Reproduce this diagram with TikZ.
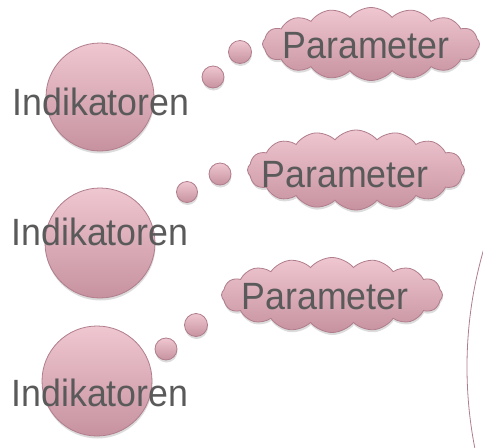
\documentclass[tikz,border=0pt]{standalone}
\usepackage{fontspec}
\setmainfont{Liberation Sans}[FakeStretch=0.94]
\usetikzlibrary{shapes.symbols,shadows}
\definecolor{pinktop}{HTML}{EFC7D1}
\definecolor{pinkbot}{HTML}{C792A0}
\definecolor{pinkline}{HTML}{B07D8C}
\definecolor{txtgray}{HTML}{5A5A5A}
\begin{document}
\begin{tikzpicture}[x=1pt,y=-1pt,
  shad/.style={drop shadow={opacity=0.28, shadow xshift=0.5pt, shadow yshift=-2.5pt}},
  ball/.style={circle, draw=pinkline, line width=0.8pt, top color=pinktop, bottom color=pinkbot, shad, inner sep=0pt},
  puff/.style={cloud, cloud puffs=16, cloud puff arc=100, aspect=2.9, draw=pinkline, line width=0.8pt, top color=pinktop, bottom color=pinkbot, shad, inner sep=0pt},
  lbl/.style={text=txtgray, font=\fontsize{38}{40}\selectfont, inner sep=0pt, anchor=center}]
\useasboundingbox (0,0) rectangle (483,448);
\node[circle, draw=pinkline, line width=0.8pt, minimum size=840pt, inner sep=0pt] (big) at (887,367) {};
% indicator circles
\node[ball, minimum size=108pt] (c1) at (100,97) {};
\node[ball, minimum size=110pt] (c2) at (100,243) {};
\node[ball, minimum size=110pt] (c3) at (97,381) {};
% thought bubbles
\node[ball, minimum size=22pt] (b11) at (213,77) {};
\node[ball, minimum size=23pt] (b12) at (240,52) {};
\node[ball, minimum size=21pt] (b21) at (187,192) {};
\node[ball, minimum size=22pt] (b22) at (220,174) {};
\node[ball, minimum size=22pt] (b31) at (166,349) {};
\node[ball, minimum size=23pt] (b32) at (196,325) {};
% clouds
\node[puff, minimum width=217pt, minimum height=73pt] (p1) at (371,44) {};
\node[puff, minimum width=217pt, minimum height=80pt] (p2) at (356,170) {};
\node[puff, minimum width=221pt, minimum height=75pt] (p3) at (332,295) {};
% labels
\node[lbl] (t1) at (101,102) {Indikatoren};
\node[lbl] (t2) at (100,232) {Indikatoren};
\node[lbl] (t3) at (100,393) {Indikatoren};
\node[lbl] (q1) at (366,46) {Parameter};
\node[lbl] (q2) at (345,175) {Parameter};
\node[lbl] (q3) at (325,297) {Parameter};
\end{tikzpicture}
\end{document}
